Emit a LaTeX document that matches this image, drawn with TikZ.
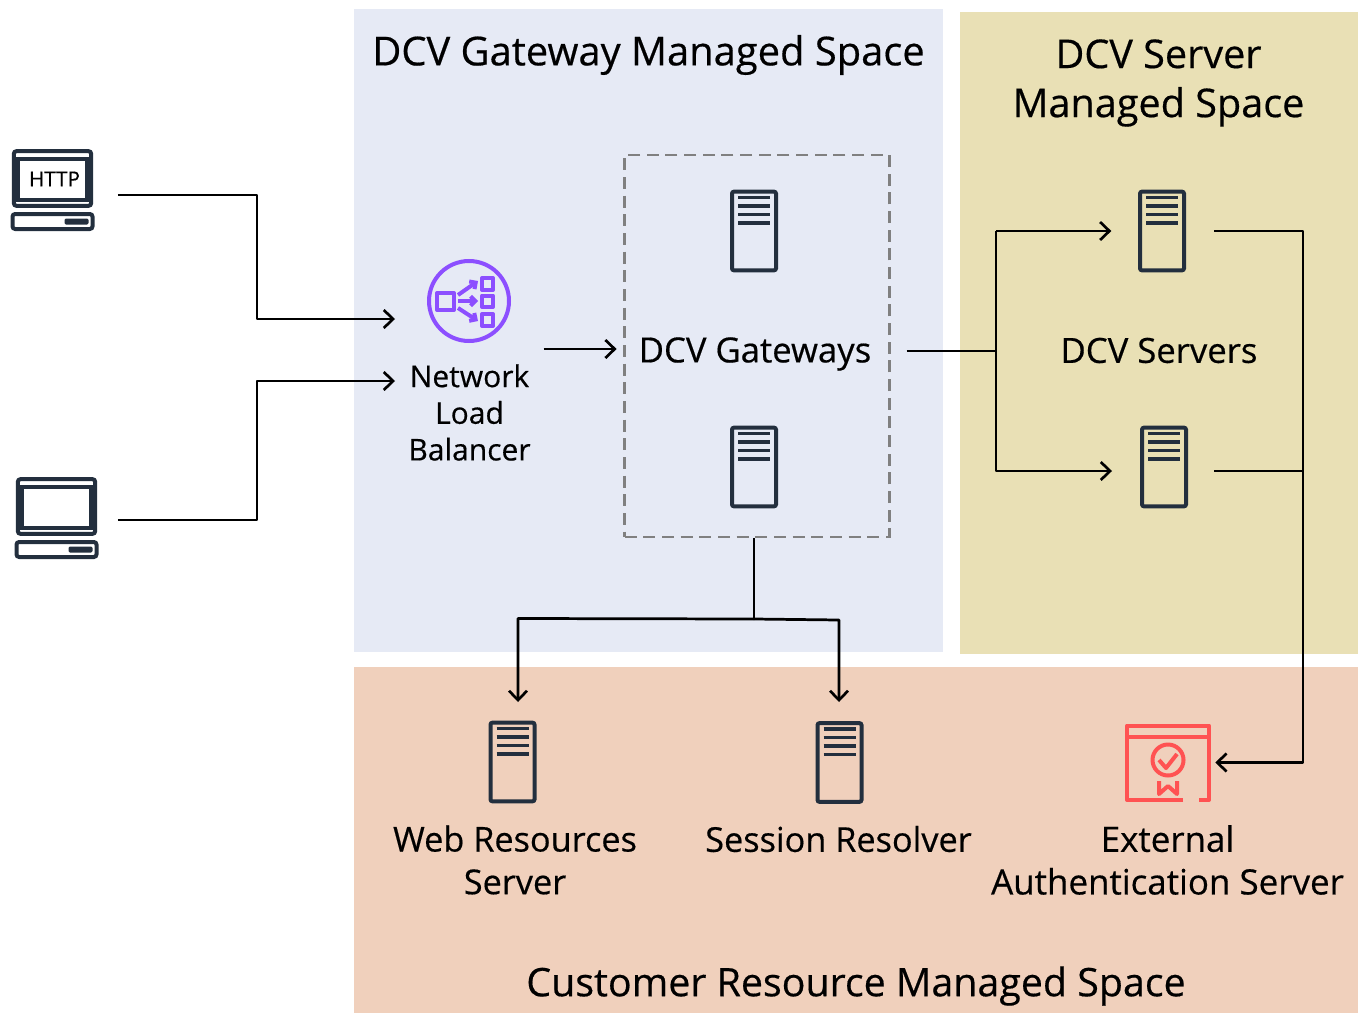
\documentclass[tikz,border=0pt]{standalone}
\usepackage{fontspec}
\setmainfont{Open Sans}[RawFeature={embolden=0.45}]
\usetikzlibrary{arrows.meta,calc}
\definecolor{ink}{HTML}{232F3E}
\definecolor{gwbg}{HTML}{E6EAF5}
\definecolor{svbg}{HTML}{E9E0B5}
\definecolor{cubg}{HTML}{F0D0BC}
\definecolor{nlbc}{HTML}{8C4FFF}
\definecolor{certc}{HTML}{FF5252}
\tikzset{
  x=0.75pt,y=-0.75pt,
  conn/.style={draw=black,line width=2.05pt,line join=round,-{Straight Barb[length=7pt,width=13.5pt,line width=2pt]}},
  wire/.style={draw=black,line width=2.05pt,line join=round},
  srvbox/.style={draw=ink,line width=3pt,rounded corners=1.5pt,minimum width=33pt,minimum height=59pt,inner sep=0pt},
  title/.style={font=\fontsize{29.7}{36.8}\selectfont,align=center,text=black,inner sep=0pt},
  label/.style={font=\fontsize{25.7}{32}\selectfont,align=center,text=black,inner sep=0pt},
  iconline/.style={draw=ink,line width=3pt},
  nlbline/.style={draw=nlbc,line width=3pt,line join=round},
  certline/.style={draw=certc,line width=3pt,line join=round},
}
\newcommand{\srvicon}[3]{%
  \node[srvbox] (#1) at (#2,#3) {};
  \foreach \dy in {-33.5,-25,-16.5,-8}{\draw[draw=ink,line width=2.7pt] (#2-16,#3+\dy) -- (#2+16,#3+\dy);}
}
\newcommand{\laptopicon}[4]{%
  \begin{scope}[shift={(#2,#3)}]
  \node[draw=ink,line width=3pt,rounded corners=2pt,minimum width=58pt,minimum height=41pt,inner sep=0pt] (#1) at (41,28.5) {};
  \draw[iconline] (6.5,8.5) rectangle (75.5,50);
  \draw[iconline,rounded corners=2pt] (1,64) rectangle (81,79);
  \fill[ink,rounded corners=1pt] (53,68.5) rectangle (77,74.5);
  #4
  \end{scope}
}
\begin{document}
\begin{tikzpicture}
\useasboundingbox (0,0) rectangle (1358,1013);
% zones
\fill[gwbg] (354,9) rectangle (943,652);
\fill[svbg] (959.5,12) rectangle (1358,654);
\fill[cubg] (354,667) rectangle (1358,1013);
\node[title,font=\fontsize{29.9}{36.8}\selectfont] (tgw) at (648.5,55) {DCV Gateway Managed Space};
\node[title] (tsv) at (1158.5,83) {DCV Server\\Managed Space};
\node[title,font=\fontsize{29.5}{36.8}\selectfont] (tcu) at (856,986) {Customer Resource Managed Space};
% clients
\laptopicon{http}{11.5}{150}{\node[font=\fontsize{15.5}{18}\selectfont,inner sep=0pt] (httpt) at (43,29) {HTTP};}
\laptopicon{desk}{15.5}{478}{}
% NLB
\node[draw=nlbc,line width=3pt,circle,minimum size=60pt,inner sep=0pt] (nlb) at (469,301) {};
\draw[nlbline] (437,293) rectangle (454,310);
\draw[nlbline] (482,278) rectangle (493,290);
\draw[nlbline] (482,295.5) rectangle (493,307);
\draw[nlbline] (482,314) rectangle (493,326);
\draw[nlbline,-{Straight Barb[length=3.5pt,width=7pt]}] (458,295) -- (478,281);
\draw[nlbline,-{Straight Barb[length=3.5pt,width=7pt]}] (458,301) -- (478,301);
\draw[nlbline,-{Straight Barb[length=3.5pt,width=7pt]}] (458,308) -- (478,321);
\node[label,font=\fontsize{22.5}{27.5}\selectfont] (nlbt) at (469.5,412.5) {Network\\Load\\Balancer};
% gateways
\node[draw=black!50,line width=2.1pt,dash pattern=on 9pt off 5pt,minimum width=198.5pt,minimum height=286.5pt,inner sep=0pt] (gws) at (757,346) {};
\srvicon{g1}{754}{231}
\srvicon{g2}{754}{467}
\node[label,font=\fontsize{26}{32}\selectfont] (gwst) at (755,354) {DCV Gateways};
% servers
\srvicon{s1}{1162}{231}
\srvicon{s2}{1164}{467}
\node[label,font=\fontsize{26}{32}\selectfont] (svst) at (1159,350.5) {DCV Servers};
% customer
\srvicon{web}{512.5}{762}
\srvicon{ses}{839.5}{762.5}
\node[label] (webt) at (515,860) {Web Resources\\Server};
\node[label] (sest) at (838.5,839) {Session Resolver};
\node[minimum width=61.5pt,minimum height=56pt,inner sep=0pt] (cert) at (1168,762.5) {};
\draw[certline] (1183,800) -- (1127,800) -- (1127,725.5) -- (1209,725.5) -- (1209,800) -- (1199,800);
\draw[certline] (1127,737) -- (1209,737);
\draw[certline] (1168,760) circle[radius=15.5];
\draw[certline] (1159,760) -- (1166,768) -- (1177,754);
\draw[certline] (1159,781) -- (1159,794) -- (1168,786) -- (1177,794) -- (1177,781);
\node[label,font=\fontsize{26.2}{32}\selectfont] (certt) at (1167.5,860) {External\\Authentication Server};
% connectors
\coordinate (busA) at (257,319);
\coordinate (busB) at (257,381);
\coordinate (nlbL) at (395,319);
\coordinate (nlbL2) at (395,381);
\coordinate (busC) at (996,351);
\coordinate (busD) at (1303,471);
\coordinate (busE) at (754,619);
\draw[conn,shorten <=18.5pt] (http.east |- 0,195) -- (busA |- 0,195) -- (busA) -- (nlbL);
\draw[conn,shorten <=15.5pt] (desk.east |- 0,520) -- (busB |- 0,520) -- (busB) -- (nlbL2);
\draw[conn,shorten <=24.5pt,shorten >=5pt] (nlb.east |- 0,349) -- (gws.west |- 0,349);
\draw[wire,shorten <=12pt] (gws.east |- busC) -- (busC);
\draw[conn,shorten >=20pt] (s1.west -| busC) -- (s1.west);
\draw[conn] (busC) -- (busC |- 0,471) -- (1112,471);
\draw[wire] (busC) -- (busC |- s1.west);
\draw[conn,shorten <=21pt] (s1.east) -- (busD |- s1.east) -- (busD |- cert.east) -- ($(cert.east)+(6,0)$);
\draw[wire,shorten <=19.5pt] (s2.east |- busD) -- (busD);
\draw[wire] (gws.south -| busE) -- (busE);
\draw[conn] (busE) -- (518,618.5) -- (518,702);
\draw[conn] (busE) -- (839,620) -- (839,702);
\end{tikzpicture}
\end{document}
